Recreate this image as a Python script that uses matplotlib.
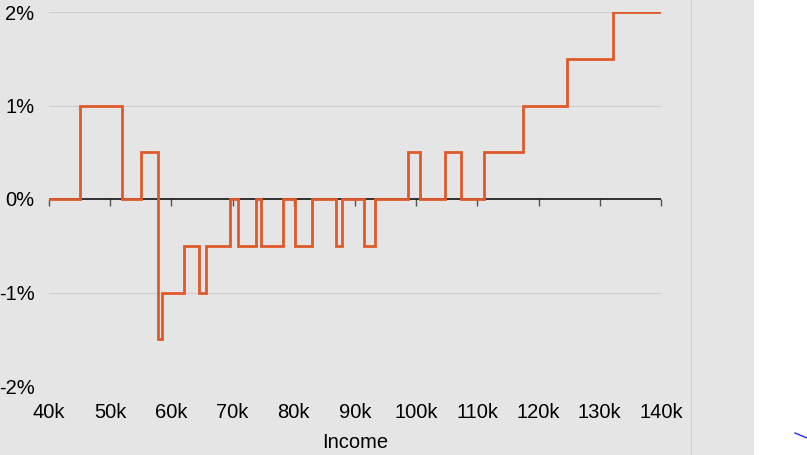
import numpy as np
import matplotlib
matplotlib.use("Agg")
import matplotlib.pyplot as plt
from matplotlib.lines import Line2D
from matplotlib.patches import Rectangle

plt.rcParams['font.family'] = ['Liberation Sans', 'DejaVu Sans']

# step edges (income, thousands) and the rate change in each band (%)
income_edges = [40, 45, 52, 55, 57.8, 58.5, 62, 64.5, 65.7, 69.6, 70.9, 73.9,
                74.7, 78.2, 80.2, 82.9, 86.9, 87.8, 91.5, 93.2, 98.7, 100.7,
                104.7, 107.3, 111, 117.5, 124.6, 132.1, 140]
rate_change = [0, 1, 0, 0.5, -1.5, -1, -0.5, -1, -0.5, 0, -0.5, 0, -0.5, 0,
               -0.5, 0, -0.5, 0, -0.5, 0, 0.5, 0, 0.5, 0, 0.5, 1, 1.5, 2]
x_ticks = [40, 50, 60, 70, 80, 90, 100, 110, 120, 130, 140]
x_labels = ['40k', '50k', '60k', '70k', '80k', '90k', '100k', '110k', '120k', '130k', '140k']
y_ticks = [-2, -1, 0, 1, 2]
y_labels = ['-2%', '-1%', '0%', '1%', '2%']

W, H = 807, 455
fig = plt.figure(figsize=(W / 100, H / 100), dpi=100)
fig.patch.set_facecolor('#e5e5e5')

# white strip on the right and the panel border
fig.add_artist(Rectangle((754 / W, 0), 1, 1, transform=fig.transFigure,
                         facecolor='white', edgecolor='none', zorder=-1))
fig.add_artist(Line2D([691 / W, 691 / W], [0, 1], transform=fig.transFigure,
                      color='#d2d2d2', lw=0.8))
fig.add_artist(Line2D([795 / W, 807 / W], [1 - 433 / H, 1 - 438 / H],
                      transform=fig.transFigure, color='#2b2bff', lw=1))

left, right, top, bottom = 49, 661, 12, 386
ax = fig.add_axes([left / W, 1 - bottom / H, (right - left) / W, (bottom - top) / H])
ax.set_facecolor('#e5e5e5')

ys = rate_change + [rate_change[-1]]
ax.step(income_edges, ys, where='post', color='#e0592b', lw=2.0, zorder=3,
        solid_joinstyle='miter')

ax.set_xlim(40, 140)
ax.set_ylim(-2, 2)
for s in ax.spines.values():
    s.set_visible(False)

for v in [-2, -1, 1, 2]:
    ax.axhline(v, color='#cfcfcf', lw=0.8, zorder=1)
ax.axhline(0, color='black', lw=1.1, zorder=2)

ax.set_yticks(y_ticks)
ax.set_yticklabels(y_labels, fontsize=14.5)
ax.tick_params(axis='y', length=0, pad=10.5)

ax.set_xticks(x_ticks)
ax.set_xticklabels(x_labels, fontsize=14.5)
ax.tick_params(axis='x', length=0, pad=12)
ax.set_xlabel('Income', fontsize=14.5, labelpad=8)

# tick marks hanging from the zero line
sec = ax.secondary_xaxis(0.5)
sec.set_xticks(x_ticks)
sec.set_xticklabels([])
sec.tick_params(axis='x', length=5, width=1, color='#555555', direction='in')
for s in sec.spines.values():
    s.set_visible(False)

fig.savefig('out.png', dpi=100, facecolor=fig.get_facecolor())
